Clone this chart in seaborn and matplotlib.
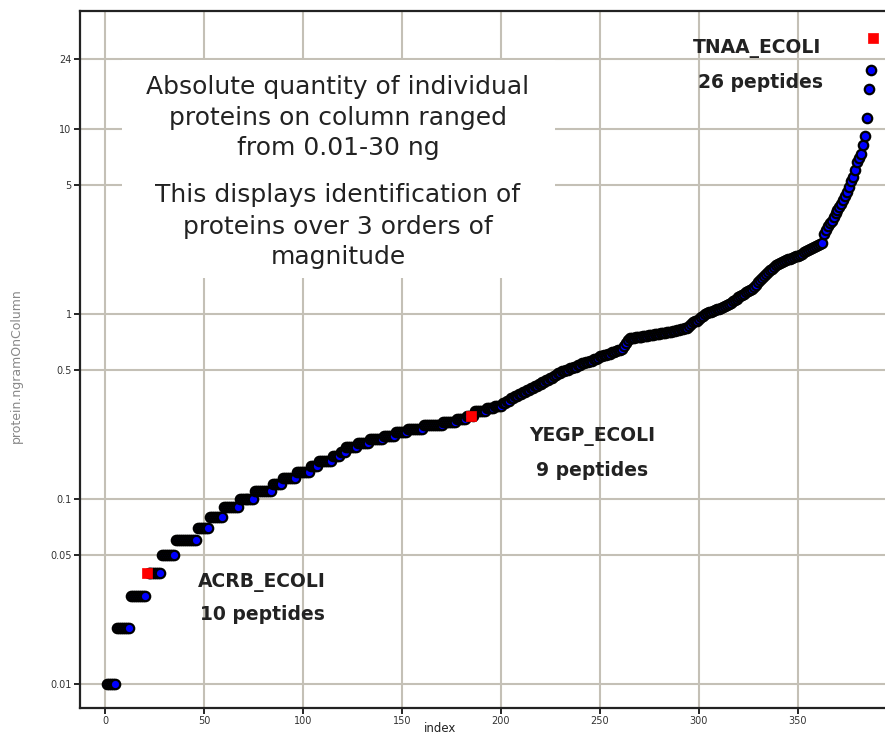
import numpy as np
import pandas as pd
import matplotlib
matplotlib.use("Agg")
import matplotlib.pyplot as plt
import seaborn as sns
from matplotlib.patches import Rectangle

# ---- data ----
# quantized part: plateau levels (ng) and number of proteins at each level
low_levels = [0.01, 0.02, 0.03, 0.04, 0.05, 0.06, 0.07, 0.08, 0.09, 0.10,
              0.11, 0.12, 0.13, 0.14, 0.15, 0.16, 0.17, 0.18, 0.19, 0.20,
              0.21, 0.22, 0.23, 0.24, 0.25, 0.26, 0.27, 0.28, 0.30, 0.31,
              0.32, 0.33, 0.34, 0.35, 0.36, 0.37, 0.38, 0.39, 0.40, 0.41,
              0.42, 0.43, 0.44, 0.45, 0.46, 0.47, 0.48, 0.49, 0.50, 0.51,
              0.52, 0.53, 0.54, 0.55, 0.56, 0.57, 0.58, 0.59, 0.60, 0.61,
              0.62, 0.63, 0.64, 0.65, 0.67, 0.70, 0.72, 0.74, 0.75, 0.76,
              0.77, 0.78, 0.79, 0.80, 0.81, 0.82, 0.83, 0.84, 0.86, 0.88,
              0.90, 0.92, 0.94]
low_counts = [5, 7, 8, 8, 7, 11, 6, 7, 8, 8,
              9, 5, 7, 7, 4, 7, 4, 3, 6, 6,
              7, 6, 6, 8, 10, 7, 5, 4, 6, 4,
              4, 2, 2, 2, 2, 2, 2, 2, 2, 2,
              2, 2, 2, 2, 1, 1, 2, 2, 2, 2,
              2, 2, 2, 2, 2, 2, 1, 2, 2, 2,
              2, 1, 2, 1, 1, 1, 1, 3, 4, 3,
              3, 3, 3, 3, 2, 2, 2, 2, 1, 1,
              1, 2, 1]
# upper part: individual proteins (index 301..388)
high_values = [0.96, 0.98, 1.00, 1.01, 1.02, 1.03, 1.04, 1.05, 1.06, 1.07,
               1.08, 1.09, 1.10, 1.12, 1.13, 1.15, 1.17, 1.19, 1.21, 1.23,
               1.25, 1.27, 1.29, 1.31, 1.33, 1.35, 1.37, 1.40, 1.44, 1.48,
               1.52, 1.56, 1.60, 1.64, 1.68, 1.72, 1.76, 1.80, 1.84, 1.87,
               1.89, 1.91, 1.93, 1.95, 1.97, 1.99, 2.01, 2.03, 2.05, 2.07,
               2.09, 2.12, 2.15, 2.18, 2.21, 2.24, 2.27, 2.30, 2.33, 2.36,
               2.39, 2.42, 2.70, 2.85, 3.00, 3.10, 3.20, 3.35, 3.50, 3.65,
               3.80, 3.95, 4.15, 4.35, 4.55, 4.85, 5.20, 5.50, 6.00, 6.60,
               7.00, 7.30, 8.20, 9.20, 11.5, 16.4, 20.8, 31.0]

highlight_names = ["ACRB_ECOLI", "YEGP_ECOLI", "TNAA_ECOLI"]
highlight_index = [21, 185, 388]
highlight_labels = ["10 peptides", "9 peptides", "26 peptides"]

note_lines = ["Absolute quantity of individual", "proteins on column ranged",
              "from 0.01-30 ng", "This displays identification of",
              "proteins over 3 orders of", "magnitude"]

x_ticks = [0, 50, 100, 150, 200, 250, 300, 350]
y_ticks = [0.01, 0.05, 0.1, 0.5, 1, 5, 10, 24]
y_tick_labels = ["0.01", "0.05", "0.1", "0.5", "1", "5", "10", "24"]

# ---- build table ----
values = list(np.repeat(low_levels, low_counts)) + high_values
df = pd.DataFrame({"index": np.arange(1, len(values) + 1),
                   "protein.ngramOnColumn": values})
df["hl"] = df["index"].isin(highlight_index)

sns.set_style("white")
plt.rcParams["font.family"] = ["DejaVu Sans"]

W, H = 885, 738
fig = plt.figure(figsize=(W / 100, H / 100), dpi=100)
ax = fig.add_axes([80 / W, 1 - 708 / H, 1 - 80 / W, (708 - 11) / H])

grid_c = "#c4c0b6"
ax.set_axisbelow(True)
ax.set_yscale("log")
ax.grid(True, which="major", color=grid_c, linewidth=1.5)
ax.minorticks_off()

sns.scatterplot(data=df[~df["hl"]], x="index", y="protein.ngramOnColumn", ax=ax,
                color="#0000ff", edgecolor="black", linewidth=1.6, s=46,
                marker="o", legend=False, zorder=3)
sns.scatterplot(data=df[df["hl"]], x="index", y="protein.ngramOnColumn", ax=ax,
                color="#ff0000", edgecolor="#ff0000", linewidth=0.5, s=44,
                marker="s", legend=False, zorder=4)

ax.set_xlim(-12.6, 394)
ax.set_ylim(0.00742, 43.4)
ax.set_xticks(x_ticks)
ax.set_xticklabels([str(t) for t in x_ticks])
ax.set_yticks(y_ticks)
ax.set_yticklabels(y_tick_labels)
ax.tick_params(axis="both", which="major", direction="out", length=4, width=1.2,
               color="black", labelsize=7, labelcolor="#333333", pad=2,
               bottom=True, left=True)
ax.minorticks_off()

for side in ["left", "bottom", "top"]:
    ax.spines[side].set_color("#222222")
    ax.spines[side].set_linewidth(1.6)
ax.spines["right"].set_visible(False)

ax.set_xlabel("index", fontsize=8.5, color="#222222", va="center")
ax.xaxis.set_label_coords((440 - 80) / (W - 80), -(729 - 708) / 697)
ax.set_ylabel("protein.ngramOnColumn", fontsize=9, color="#888888")
ax.yaxis.set_label_coords(-(80 - 23) / (W - 80), (708 - 366) / 697)

# white box behind the explanatory text
box = Rectangle((122 / W, 1 - 278 / H), (555 - 122) / W, (278 - 60) / H,
                transform=fig.transFigure, facecolor="white", edgecolor="none")
ax.add_artist(box)
box.set_zorder(1.5)

text_c = "#222222"
note_y = [87, 118, 148, 195, 227, 257]
for line, yy in zip(note_lines, note_y):
    fig.text(338 / W, 1 - yy / H, line, ha="center", va="center",
             fontsize=18, color=text_c)

name_pos = [(262, 582), (592, 437), (757, 48)]
lab_pos = [(262, 614), (592, 470), (760, 82)]
for name, lab, (nx, ny), (lx, ly) in zip(highlight_names, highlight_labels, name_pos, lab_pos):
    fig.text(nx / W, 1 - ny / H, name, ha="center", va="center",
             fontsize=13.5, fontweight="bold", color=text_c)
    fig.text(lx / W, 1 - ly / H, lab, ha="center", va="center",
             fontsize=13.5, fontweight="bold", color=text_c)

fig.savefig("out.png", dpi=100)
